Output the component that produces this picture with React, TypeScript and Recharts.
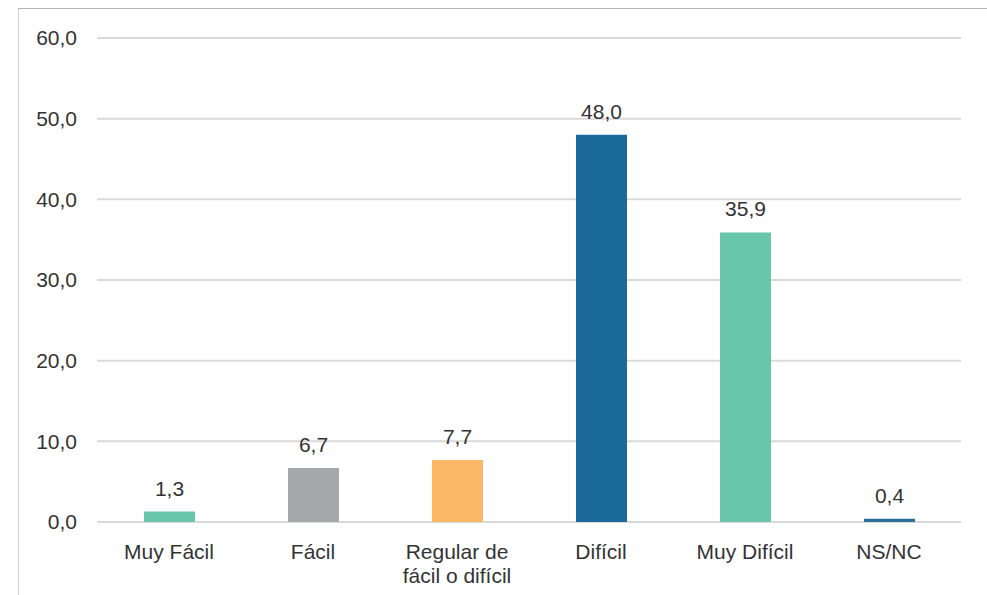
import React from "react";
import { BarChart, Bar, XAxis, YAxis, CartesianGrid, Cell, LabelList } from "recharts";

const categories = ["Muy Fácil", "Fácil", "Regular de fácil o difícil", "Difícil", "Muy Difícil", "NS/NC"];
const values = [1.3, 6.7, 7.7, 48.0, 35.9, 0.4];
const barColors = ["#68C6AA", "#A5A8A9", "#FDB866", "#1B6A9A", "#68C6AA", "#2F6E98"];
const yTicks = [0, 10, 20, 30, 40, 50, 60];

const data = categories.map((name, i) => ({ name, value: values[i] }));

const fmt = (v: number) => v.toFixed(1).replace(".", ",");

const FONT = "'Liberation Sans', Arial, Helvetica, sans-serif";
const FS = 21;

function wrap(label: string, max: number): string[] {
  const words = label.split(" ");
  const lines: string[] = [];
  let cur = "";
  for (const w of words) {
    const t = cur ? cur + " " + w : w;
    if (t.length > max && cur) {
      lines.push(cur);
      cur = w;
    } else {
      cur = t;
    }
  }
  if (cur) lines.push(cur);
  return lines;
}

const XTick = (props: any) => {
  const { x, y, payload } = props;
  const lines = wrap(String(payload.value), 15);
  return (
    <g transform={`translate(${x},${y})`}>
      {lines.map((l, i) => (
        <text
          key={i}
          x={0}
          y={29 + i * 24}
          textAnchor="middle"
          fontSize={FS}
          fill="#333333"
          fontFamily={FONT}
        >
          {l}
        </text>
      ))}
    </g>
  );
};

export default function App() {
  return (
    <div style={{ position: "absolute", left: 0, top: 0, width: 987, height: 595, background: "#fff" }}>
      <div
        style={{
          position: "absolute",
          left: 18,
          top: 8,
          width: 969,
          height: 587,
          borderTop: "1.5px solid #b4b4b4",
          borderLeft: "1.5px solid #d0d0d0",
          boxSizing: "border-box",
        }}
      />
      <div style={{ position: "absolute", left: 0, top: 0 }}>
        <BarChart
          width={987}
          height={595}
          data={data}
          margin={{ top: 38, right: 26, bottom: 0, left: 0 }}
          barSize={51}
        >
          <CartesianGrid vertical={false} stroke="#d9d9d9" strokeWidth={2} />
          <XAxis
            dataKey="name"
            axisLine={false}
            tickLine={false}
            height={73}
            interval={0}
            tick={<XTick />}
          />
          <YAxis
            width={97}
            domain={[0, 60]}
            ticks={yTicks}
            axisLine={false}
            tickLine={false}
            tickMargin={14}
            tickFormatter={fmt}
            tick={{ fontSize: FS, fill: "#333333", fontFamily: FONT }}
          />
          <Bar dataKey="value" isAnimationActive={false}>
            {data.map((d, i) => (
              <Cell key={d.name} fill={barColors[i]} />
            ))}
            <LabelList
              dataKey="value"
              position="top"
              offset={16}
              formatter={(v: any) => fmt(Number(v))}
              style={{ fontSize: FS, fill: "#333333", fontFamily: FONT }}
            />
          </Bar>
        </BarChart>
      </div>
    </div>
  );
}
